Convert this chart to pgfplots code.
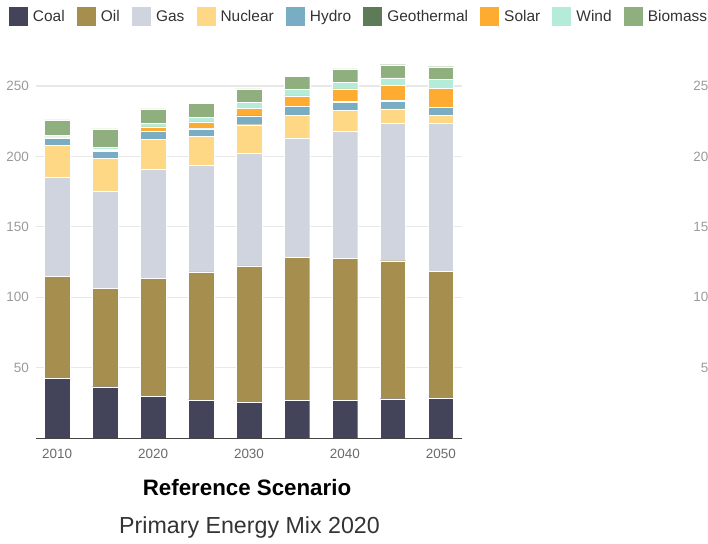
\documentclass[border=0pt]{standalone}
\usepackage{pgfplots}
\pgfplotsset{compat=1.18}
\usepackage{pgfplotstable}
\usepackage{fontspec}
\setmainfont{Liberation Sans}

\definecolor{coal}{HTML}{434459}
\definecolor{oil}{HTML}{A68F4E}
\definecolor{gas}{HTML}{D0D4DE}
\definecolor{nuclear}{HTML}{FED884}
\definecolor{hydro}{HTML}{78ADC3}
\definecolor{geo}{HTML}{5E7B57}
\definecolor{solar}{HTML}{FEAB31}
\definecolor{wind}{HTML}{B4EBD9}
\definecolor{bio}{HTML}{8FAF7F}
\definecolor{gridgray}{HTML}{E8E8E8}
\definecolor{ytickgray}{HTML}{9A9A9A}
\definecolor{xtickgray}{HTML}{6A6A6A}
\definecolor{axisgray}{HTML}{444444}
\definecolor{textdark}{HTML}{333333}

\pgfplotstableread{
year coal oil gas nuclear hydro geo solar wind bio
2010 42.4 72.2 70.3 23.0 5.2 0.7 0.5 0.4 11.2
2015 36.4 70.1 69.1 22.8 5.2 0.6 0.6 1.4 13.3
2020 29.8 83.4 77.9 21.0 5.5 0.3 3.0 2.4 10.4
2025 27.2 90.7 75.8 20.3 5.6 0.3 4.7 3.2 9.9
2030 25.1 97.1 80.2 20.1 5.7 0.7 5.0 4.3 9.7
2035 26.8 101.5 84.8 16.3 5.9 0.3 7.3 4.7 9.5
2040 26.8 100.6 90.6 14.7 5.9 0.3 9.0 4.7 9.5
2045 27.9 98.0 97.4 10.4 5.6 0.3 10.9 5.2 9.4
2050 28.2 90.2 105.3 5.7 5.2 0.3 13.5 6.3 9.0
}\datatable

\pgfplotsset{
  commonaxis/.style={
    scale only axis,
    width=426bp, height=380.16bp,
    ymin=0, ymax=270,
    ytick={50,100,150,200,250},
    ymajorgrids,
    grid style={color=gridgray, line width=1.2bp},
    major tick length=0pt,
    axis x line*=bottom,
    axis y line*=left,
    y axis line style={draw=none},
    x axis line style={draw=axisgray, line width=0.9bp},
    /pgf/number format/assume math mode=true,
    /pgf/number format/1000 sep={},
    yticklabel style={font=\fontsize{13.5}{16}\selectfont, color=ytickgray, inner sep=0pt, xshift=-7bp},
    xticklabel style={font=\fontsize{13.5}{16}\selectfont, color=xtickgray, inner sep=0pt, yshift=-11bp},
  }
}

\begin{document}
\begin{tikzpicture}
\useasboundingbox (0,0) rectangle (708bp,544bp);
\clip (0,0) rectangle (708bp,544bp);

\begin{axis}[
  commonaxis,
  at={(36bp,106bp)}, anchor=south west,
  xmin=2007.8, xmax=2052.2,
  xtick={2010,2020,2030,2040,2050},
  ybar stacked, bar width=25.5bp,
  legend image code/.code={\fill[#1,draw=none] (0bp,-9.5bp) rectangle (19bp,9.5bp);},
  legend columns=9,
  legend style={at={(axis description cs:-0.0634,1.1337)}, anchor=north west,
    draw=none, fill=none, inner sep=0pt, outer sep=0pt,
    font=\fontsize{15.5}{18}\selectfont, text=textdark,
    nodes={inner sep=0pt},
    /tikz/every even column/.append style={column sep=12.2bp},
    /tikz/every odd column/.append style={column sep=5bp}},
  legend cell align=left,
  every axis plot/.append style={draw=white, line width=0.4bp},
]
\addplot[fill=coal] table[x=year,y=coal]{\datatable};
\addplot[fill=oil] table[x=year,y=oil]{\datatable};
\addplot[fill=gas] table[x=year,y=gas]{\datatable};
\addplot[fill=nuclear] table[x=year,y=nuclear]{\datatable};
\addplot[fill=hydro] table[x=year,y=hydro]{\datatable};
\addplot[fill=geo] table[x=year,y=geo]{\datatable};
\addplot[fill=solar] table[x=year,y=solar]{\datatable};
\addplot[fill=wind] table[x=year,y=wind]{\datatable};
\addplot[fill=bio] table[x=year,y=bio]{\datatable};
\legend{Coal,Oil,Gas,Nuclear,Hydro,Geothermal,Solar,Wind,Biomass}
\end{axis}

% second (cut-off) chart on the right, as in the reference
\begin{axis}[
  commonaxis,
  at={(723bp,106bp)}, anchor=south west,
  xmin=0, xmax=1, xtick=\empty,
]
\end{axis}

\node[font=\fontsize{22.4}{26}\selectfont\bfseries, text=black] at (247bp,56bp) {Reference Scenario};
\node[font=\fontsize{23.3}{27}\selectfont, text=textdark] at (249.5bp,17bp) {Primary Energy Mix 2020};
\end{tikzpicture}
\end{document}
